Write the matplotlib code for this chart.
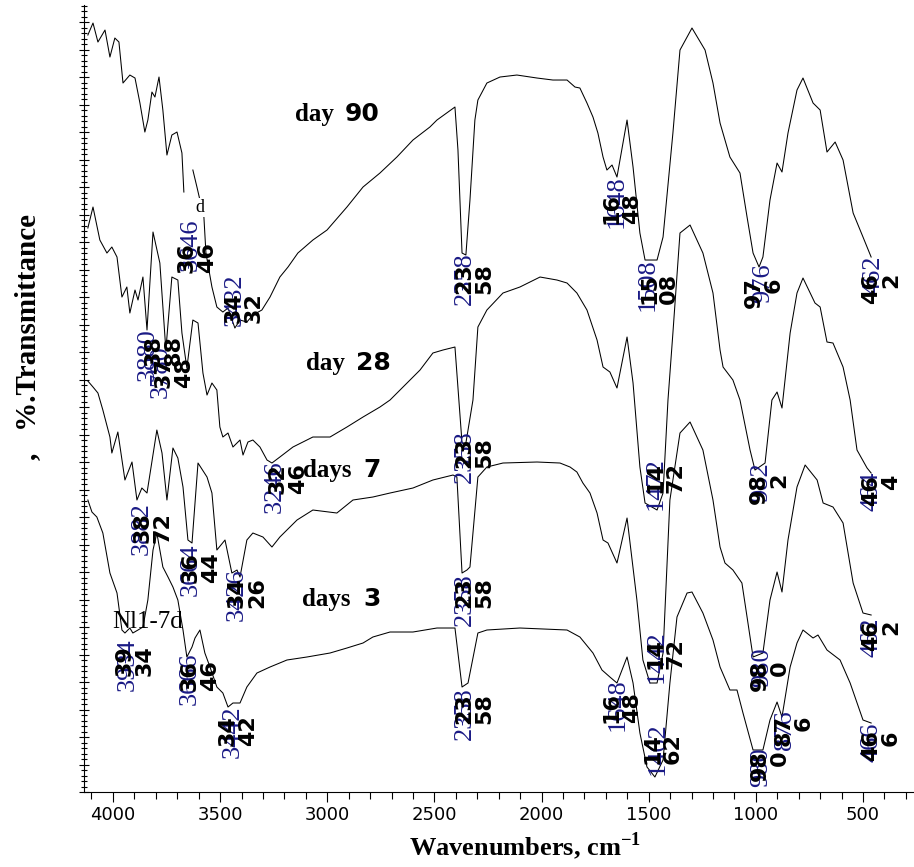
import numpy as np
import matplotlib
matplotlib.use("Agg")
import matplotlib.pyplot as plt
from matplotlib.ticker import MultipleLocator

plt.rcParams["mathtext.fontset"] = "custom"
plt.rcParams["mathtext.bf"] = "Liberation Serif:bold"
plt.rcParams["mathtext.rm"] = "Liberation Serif"

# FTIR spectra: [wavenumber cm-1, offset transmittance (a.u.)]
day90 = np.array([
    [4117, 757], [4093, 769], [4070, 750], [4037, 762], [4014, 735], [3991, 754],
    [3972, 750], [3953, 709], [3921, 717], [3897, 714], [3874, 689], [3851, 660],
    [3837, 672], [3818, 700], [3804, 695], [3785, 715], [3767, 682], [3748, 637],
    [3725, 657], [3701, 660], [3678, 639], [3669, 600], [np.nan, np.nan],
    [3627, 622], [3608, 605], [3594, 592], [3580, 592], [3566, 539], [3538, 505],
    [3515, 485], [3487, 480], [3463, 484], [3431, 464], [3407, 472], [3375, 470],
    [3347, 477], [3305, 482], [3267, 495], [3221, 515], [3183, 525], [3137, 539],
    [3067, 552], [3001, 562], [2908, 585], [2833, 605], [2754, 619], [2675, 635],
    [2600, 652], [2521, 665], [2488, 672], [2404, 685], [2390, 642], [2371, 539],
    [2353, 537], [2334, 592], [2311, 672], [2297, 692], [2255, 709], [2194, 715],
    [2115, 717], [2021, 714], [1947, 712], [1881, 712], [1844, 705], [1821, 704],
    [1788, 689], [1760, 675], [1737, 659], [1713, 635], [1695, 622], [1671, 627],
    [1648, 615], [1601, 672], [1573, 625], [1541, 559], [1517, 532], [1461, 532],
    [1433, 555], [1387, 659], [1354, 742], [1298, 764], [1237, 742], [1200, 709],
    [1167, 669], [1121, 635], [1074, 619], [1041, 575], [1013, 539], [985, 525],
    [967, 535], [934, 592], [901, 629], [878, 620], [850, 659], [808, 702],
    [780, 714], [733, 689], [700, 682], [668, 640], [630, 650], [593, 632],
    [546, 579], [500, 555], [462, 535],
])

day28 = np.array([
    [4117, 564], [4093, 585], [4061, 552], [4028, 539], [4005, 545], [3981, 535],
    [3958, 495], [3935, 505], [3921, 479], [3897, 502], [3883, 492], [3860, 515],
    [3841, 462], [3813, 560], [3781, 529], [3753, 442], [3725, 515], [3697, 512],
    [3678, 459], [3655, 424], [3627, 472], [3603, 469], [3580, 419], [3561, 397],
    [3538, 409], [3515, 402], [3501, 365], [3487, 355], [3463, 359], [3440, 345],
    [3407, 352], [3393, 337], [3370, 350], [3347, 352], [3314, 345], [3281, 332],
    [3258, 329], [3221, 335], [3160, 345], [3067, 355], [2987, 355], [2908, 365],
    [2833, 375], [2754, 385], [2707, 392], [2637, 407], [2567, 422], [2507, 439],
    [2460, 442], [2404, 445], [2371, 349], [2353, 349], [2320, 392], [2297, 465],
    [2255, 482], [2180, 499], [2101, 505], [2007, 515], [1928, 512], [1881, 509],
    [1835, 499], [1788, 482], [1741, 452], [1713, 425], [1681, 420], [1648, 404],
    [1601, 455], [1573, 409], [1541, 325], [1517, 289], [1461, 282], [1433, 299],
    [1410, 392], [1387, 459], [1354, 559], [1307, 567], [1247, 539], [1200, 499],
    [1167, 442], [1153, 425], [1107, 412], [1074, 392], [1027, 342], [1004, 322],
    [957, 329], [925, 392], [901, 400], [878, 384], [840, 459], [808, 499],
    [780, 514], [724, 489], [700, 485], [668, 450], [640, 449], [593, 425],
    [560, 392], [528, 342], [481, 324], [462, 319],
])

days7 = np.array([
    [4117, 411], [4093, 405], [4070, 399], [4047, 382], [4014, 355], [4005, 339],
    [3977, 360], [3944, 312], [3911, 330], [3888, 292], [3865, 304], [3841, 299],
    [3795, 362], [3771, 339], [3748, 292], [3720, 344], [3697, 334], [3673, 305],
    [3650, 252], [3631, 249], [3603, 329], [3561, 315], [3538, 299], [3515, 242],
    [3477, 252], [3445, 219], [3421, 222], [3407, 215], [3375, 252], [3347, 259],
    [3300, 255], [3258, 245], [3221, 255], [3141, 272], [3067, 282], [2955, 279],
    [2880, 292], [2787, 295], [2707, 299], [2600, 304], [2507, 312], [2413, 317],
    [2395, 315], [2371, 219], [2348, 222], [2334, 225], [2297, 315], [2255, 325],
    [2180, 329], [2021, 330], [1914, 329], [1867, 325], [1835, 320], [1807, 309],
    [1774, 299], [1741, 279], [1713, 252], [1690, 249], [1648, 229], [1601, 274],
    [1555, 192], [1527, 132], [1494, 109], [1461, 109], [1433, 139], [1401, 292],
    [1354, 359], [1307, 370], [1247, 342], [1200, 292], [1167, 245], [1144, 229],
    [1107, 222], [1065, 209], [1041, 175], [1013, 135], [967, 139], [934, 192],
    [901, 220], [878, 200], [850, 252], [808, 305], [770, 327], [714, 312],
    [686, 289], [640, 285], [593, 269], [546, 209], [500, 179], [462, 177],
])

days3 = np.array([
    [4117, 292], [4098, 280], [4075, 275], [4047, 259], [4014, 219], [3981, 199],
    [3958, 162], [3944, 159], [3921, 164], [3907, 159], [3883, 162], [3860, 165],
    [3837, 192], [3813, 242], [3795, 259], [3767, 225], [3743, 215], [3720, 205],
    [3697, 192], [3673, 162], [3655, 135], [3631, 145], [3617, 154], [3594, 162],
    [3571, 139], [3547, 125], [3515, 105], [3487, 99], [3463, 85], [3440, 89],
    [3407, 89], [3375, 105], [3328, 119], [3267, 125], [3188, 132], [3095, 135],
    [2987, 139], [2908, 144], [2833, 149], [2787, 155], [2707, 160], [2600, 160],
    [2488, 164], [2404, 164], [2371, 105], [2343, 109], [2297, 159], [2255, 162],
    [2101, 164], [1881, 162], [1821, 155], [1760, 139], [1718, 122], [1681, 115],
    [1648, 109], [1601, 135], [1573, 109], [1541, 59], [1508, 25], [1471, 15],
    [1433, 32], [1401, 109], [1368, 175], [1321, 199], [1298, 200], [1247, 179],
    [1200, 152], [1167, 125], [1121, 102], [1088, 102], [1060, 79], [1013, 42],
    [967, 42], [934, 72], [901, 90], [878, 75], [840, 125], [808, 149],
    [780, 162], [733, 154], [710, 157], [668, 142], [607, 132], [560, 109],
    [500, 72], [462, 69],
])

spectra = [day90, day28, days7, days3]

# peak labels: (blue x, blue top, blue text, black x, black top, black text)
peaks = [
    (3636, 574, "3646", 3645, 550, "36\n46"),
    (3431, 519, "3432", 3426, 500, "34\n32"),
    (2357, 540, "2358", 2353, 529, "23\n58"),
    (1648, 617, "1648", 1662, 599, "16\n48"),
    (1503, 534, "1508", 1489, 519, "15\n08"),
    (967, 529, "976", 999, 515, "97\n6"),
    (453, 537, "462", 453, 519, "46\n2"),
    (3837, 464, "3880", 3799, 457, "38\n88"),
    (3776, 447, "3780", 3753, 435, "37\n48"),
    (3244, 332, "3246", 3221, 329, "32\n46"),
    (2357, 362, "2358", 2353, 355, "23\n58"),
    (1466, 335, "1472", 1461, 330, "14\n72"),
    (976, 330, "982", 976, 319, "98\n2"),
    (462, 320, "464", 453, 317, "46\n4"),
    (3865, 290, "3882", 3851, 280, "38\n72"),
    (3636, 249, "3664", 3627, 240, "36\n44"),
    (3421, 224, "3426", 3412, 215, "34\n26"),
    (2357, 219, "2358", 2353, 215, "23\n58"),
    (1461, 162, "1442", 1461, 154, "14\n72"),
    (971, 145, "980", 971, 132, "98\n0"),
    (458, 175, "462", 453, 172, "46\n2"),
    (3930, 154, "3934", 3935, 147, "39\n34"),
    (3641, 140, "3666", 3631, 132, "36\n46"),
    (3440, 87, "3442", 3454, 77, "34\n42"),
    (2357, 105, "2358", 2353, 99, "23\n58"),
    (1643, 114, "1648", 1662, 100, "16\n48"),
    (1457, 70, "1462", 1471, 59, "14\n62"),
    (976, 45, "980", 971, 42, "98\n0"),
    (864, 82, "876", 859, 77, "87\n6"),
    (458, 69, "466", 453, 62, "46\n6"),
]

# sample names: (word, number, word x, number x, baseline)
names = [
    ("day", "90", 3151, 2917, 671),
    ("day", "28", 3099, 2866, 422),
    ("days", "7", 3113, 2833, 315),
    ("days", "3", 3118, 2833, 186),
]

serif = "Liberation Serif"
blue = "#1a1a85"

fig = plt.figure(figsize=(9.14, 8.67), dpi=100)
ax = fig.add_axes([0.0919, 0.0865, 0.9081, 0.9077])

for s in spectra:
    ax.plot(s[:, 0], s[:, 1], color="black", lw=0.75)

ax.set_xlim(4135, 262)
ax.set_ylim(0, 787)
ax.spines["top"].set_visible(False)
ax.spines["right"].set_visible(False)
ax.xaxis.set_major_locator(MultipleLocator(500))
ax.xaxis.set_minor_locator(MultipleLocator(100))
ax.yaxis.set_major_locator(MultipleLocator(27.5))
ax.yaxis.set_minor_locator(MultipleLocator(5.5))
ax.tick_params(axis="x", which="major", length=7, width=0.8, labelsize=13, pad=3)
ax.tick_params(axis="x", which="minor", length=5, width=0.8)
ax.tick_params(axis="y", which="major", direction="inout", length=7, width=0.8, labelleft=False)
ax.tick_params(axis="y", which="minor", direction="inout", length=4, width=0.8)

for xb, yb, tb, xk, yk, tk in peaks:
    ax.text(xb, yb, tb, rotation=90, ha="center", va="top", fontsize=19,
            family=serif, color=blue)
for xb, yb, tb, xk, yk, tk in peaks:
    ax.annotate(tk, (xk, yk), xytext=(-12, 0), textcoords="offset pixels",
                rotation=90, ha="left", va="top", multialignment="right",
                fontsize=16, fontweight="bold", family="DejaVu Sans", linespacing=1.0)

for word, num, xw, xn, yb in names:
    ax.text(xw, yb, word, family=serif, fontweight="bold", fontsize=18, va="baseline")
    ax.text(xn, yb, num, family="DejaVu Sans", fontweight="bold", fontsize=18, va="baseline")

ax.text(4005, 164, "Nl1-7d", family=serif, fontsize=18, va="baseline")
ax.text(3617, 580, "d", family=serif, fontsize=13, va="baseline",
        bbox=dict(facecolor="white", edgecolor="none", pad=0.5))

fig.text(525 / 914, 1 - 846 / 867, "Wavenumbers, cm$^{\\mathbf{-1}}$", family=serif,
         fontweight="bold", fontsize=19, ha="center", va="center")
fig.text(28 / 914, 1 - 337 / 867, ",   %.Transmittance", family=serif,
         fontweight="bold", fontsize=21, rotation=90, ha="center", va="center")

fig.savefig("out.png", dpi=100)
